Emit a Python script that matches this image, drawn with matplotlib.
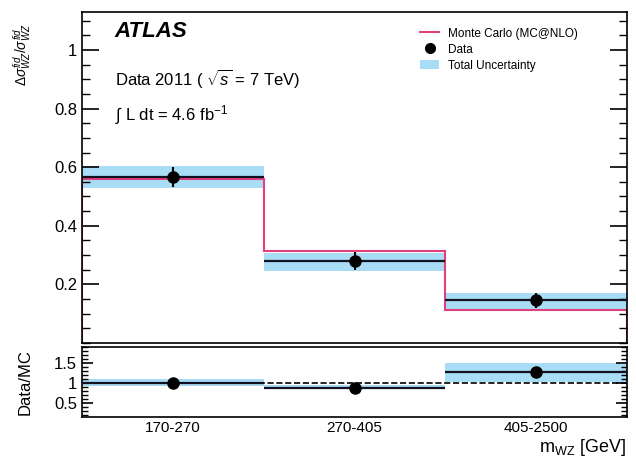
import numpy as np
import matplotlib.pyplot as plt
from matplotlib.lines import Line2D
from matplotlib.patches import Patch
from matplotlib.ticker import MultipleLocator

plt.rcParams["font.family"] = ["Liberation Sans", "DejaVu Sans"]
plt.rcParams["mathtext.fontset"] = "custom"
plt.rcParams["mathtext.rm"] = "Liberation Sans"
plt.rcParams["mathtext.it"] = "Liberation Sans:italic"
plt.rcParams["mathtext.bf"] = "Liberation Sans:bold"

bins = ["170-270", "270-405", "405-2500"]
data = [0.566, 0.280, 0.145]
data_err = [0.035, 0.030, 0.025]
mc = [0.561, 0.312, 0.112]
band_lo = [0.528, 0.244, 0.113]
band_hi = [0.603, 0.308, 0.170]

ratio = [1.00, 0.88, 1.27]
ratio_err = [0.05, 0.05, 0.12]
ratio_lo = [0.93, 0.84, 1.03]
ratio_hi = [1.09, 0.94, 1.49]

band_col = "#a9dcf5"
mc_col = "#e0407e"

edges = np.arange(len(bins) + 1)
centers = edges[:-1] + 0.5

fig = plt.figure(figsize=(6.36, 4.62), dpi=100)
ax = fig.add_axes([0.129, 0.258, 0.857, 0.716])
rx = fig.add_axes([0.129, 0.097, 0.857, 0.152])

# main panel
for i in range(len(bins)):
    ax.fill_between([edges[i], edges[i + 1]], band_lo[i], band_hi[i],
                    color=band_col, lw=0, zorder=1)
ax.stairs(mc, edges, color=mc_col, lw=1.5, zorder=2)
ax.hlines(data, edges[:-1], edges[1:], color="#111122", lw=1.6, zorder=3)
ax.errorbar(centers, data, yerr=data_err, fmt="o", color="black",
            ms=8, elinewidth=1.5, capsize=0, zorder=4)

ax.set_xlim(0, 3)
ax.set_ylim(0, 1.13)
ax.set_xticks([])
ax.yaxis.set_minor_locator(MultipleLocator(0.05))
ax.set_yticks([0.2, 0.4, 0.6, 0.8, 1.0])
ax.set_yticklabels(["0.2", "0.4", "0.6", "0.8", "1"])
ax.tick_params(axis="y", which="both", direction="in", left=True, right=True,
               labelsize=12)
ax.tick_params(axis="y", which="major", length=12, width=1.2)
ax.tick_params(axis="y", which="minor", length=6, width=1.0)
for s in ax.spines.values():
    s.set_linewidth(1.2)
ax.set_ylabel(r"$\Delta\sigma^{fid}_{WZ}/\sigma^{fid}_{WZ}$", fontsize=10)
ax.yaxis.set_label_coords(-0.09, 0.87)

ax.text(0.06, 0.94, "ATLAS", transform=ax.transAxes, fontsize=16,
        fontweight="bold", style="italic", va="center")
ax.text(0.06, 0.80, r"Data 2011 ( $\sqrt{s}$ = 7 TeV)", transform=ax.transAxes,
        fontsize=12, va="center")
ax.text(0.06, 0.69, r"$\int$ L dt = 4.6 fb$^{-1}$", transform=ax.transAxes,
        fontsize=12, va="center")

handles = [Line2D([], [], color=mc_col, lw=1.5),
           Line2D([], [], marker="o", color="black", ls="none", ms=7),
           Patch(facecolor=band_col, edgecolor="none")]
labels = ["Monte Carlo (MC@NLO)", "Data", "Total Uncertainty"]
ax.legend(handles, labels, loc="upper right", bbox_to_anchor=(0.93, 0.985),
          frameon=False, fontsize=8.5, handlelength=1.6, labelspacing=0.35,
          handleheight=0.8)

# ratio panel
for i in range(len(bins)):
    rx.fill_between([edges[i], edges[i + 1]], ratio_lo[i], ratio_hi[i],
                    color=band_col, lw=0, zorder=1)
rx.hlines(ratio, edges[:-1], edges[1:], color="#111122", lw=1.6, zorder=3)
rx.axhline(1.0, color="black", ls="--", lw=1.2, zorder=2)
rx.errorbar(centers, ratio, yerr=ratio_err, fmt="o", color="black",
            ms=8, elinewidth=1.5, capsize=0, zorder=4)
rx.set_xlim(0, 3)
rx.set_ylim(0.15, 1.9)
rx.set_xticks(centers)
rx.set_xticklabels(bins, fontsize=11)
rx.tick_params(axis="x", length=0, pad=3)
rx.set_yticks([0.5, 1.0, 1.5])
rx.set_yticklabels(["0.5", "1", "1.5"])
rx.yaxis.set_minor_locator(MultipleLocator(0.1))
rx.tick_params(axis="y", which="both", direction="in", left=True, right=True,
               labelsize=12)
rx.tick_params(axis="y", which="major", length=8, width=1.2)
rx.tick_params(axis="y", which="minor", length=4, width=1.0)
for s in rx.spines.values():
    s.set_linewidth(1.2)
rx.set_ylabel("Data/MC", fontsize=12)
rx.yaxis.set_label_coords(-0.09, 0.5)
fig.text(0.985, 0.008, r"m$_{\rm WZ}$ [GeV]", fontsize=13, ha="right",
         va="bottom")

fig.savefig("out.png", dpi=100)
